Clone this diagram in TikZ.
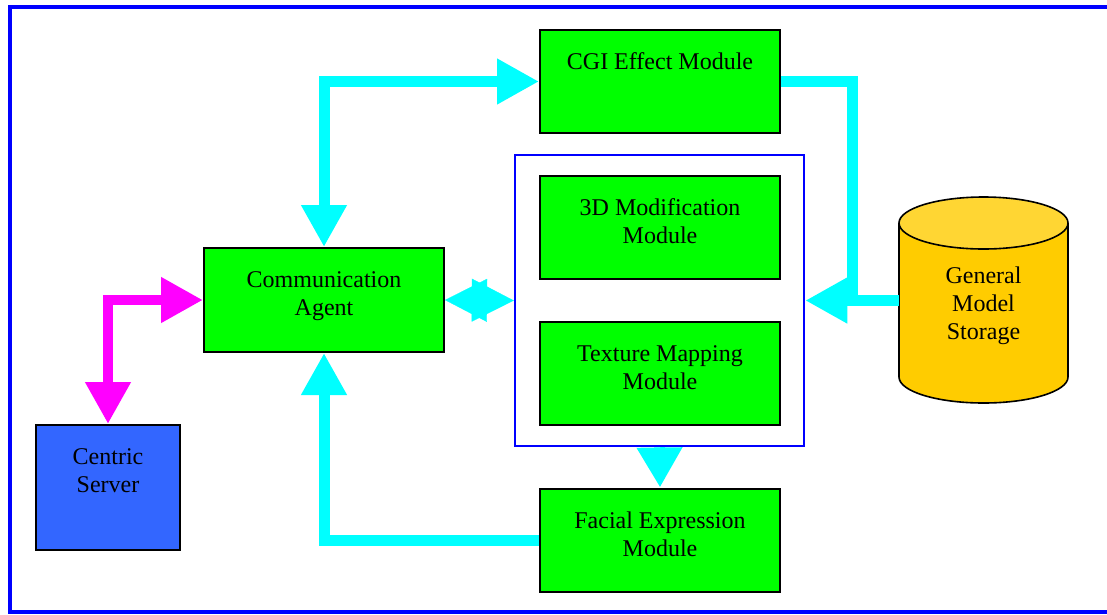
\documentclass[tikz,border=0pt]{standalone}
\usepackage{fontspec}
\setmainfont{Liberation Serif}
\usetikzlibrary{arrows.meta}
\definecolor{boxgreen}{HTML}{00FF00}
\definecolor{arrcyan}{HTML}{00FFFF}
\definecolor{arrmag}{HTML}{FF00FF}
\definecolor{frameblue}{HTML}{0000FF}
\definecolor{serverblue}{HTML}{3366FF}
\definecolor{cylbody}{HTML}{FFCC00}
\definecolor{cyltop}{HTML}{FFD633}
\begin{document}
\begin{tikzpicture}[x=1pt,y=-1pt,
  box/.style={draw=black, line width=2pt, fill=boxgreen, minimum width=240pt, minimum height=103pt, inner sep=0pt},
  txt/.style={anchor=base, inner sep=0pt, yshift=-40.5pt, font=\fontsize{24}{28}\selectfont},
  bigtip/.tip={Triangle[length=42pt,width=43pt]},
  shorttip/.tip={Triangle[length=40pt,width=43pt]},
  cyanline/.style={draw=arrcyan, line width=11pt},
  headonly/.style={draw=arrcyan, line width=0.3pt},
  magline/.style={draw=arrmag, line width=10.5pt},
]
\useasboundingbox (0,0) rectangle (1107,614);
\draw[frameblue, line width=4pt] (10,7) rectangle (1120,612);

% inner frame
\node[draw=frameblue, line width=2.5pt, minimum width=289pt, minimum height=291pt, inner sep=0pt] (frame) at (659.5,300.5) {};

% boxes
\node[box] (cgi) at (660,81.5) {};
\node[box] (mod) at (660,227.5) {};
\node[box] (tex) at (660,373) {};
\node[box] (fem) at (660,540) {};
\node[box, minimum height=104pt] (ca) at (324,300) {};
\node[box, fill=serverblue, minimum width=144pt, minimum height=125pt] (cs) at (108,487.5) {};

\node[txt] (cgit) at (cgi.north) {\parbox[t]{230pt}{\centering CGI Effect Module}};
\node[txt] (modt) at (mod.north) {\parbox[t]{230pt}{\centering 3D Modification\\Module}};
\node[txt] (text) at (tex.north) {\parbox[t]{230pt}{\centering Texture Mapping\\Module}};
\node[txt] (femt) at (fem.north) {\parbox[t]{230pt}{\centering Facial Expression\\Module}};
\node[txt] (cat) at (ca.north) {\parbox[t]{230pt}{\centering Communication\\Agent}};
\node[txt] (cst) at (cs.north) {\parbox[t]{140pt}{\centering Centric\\Server}};

% cylinder
\node[minimum width=169pt, minimum height=208pt, inner sep=0pt] (gms) at (983.5,299) {};
\fill[cylbody] (899,223) -- (899,377) arc[start angle=180, end angle=360, x radius=84.5pt, y radius=26pt] -- (1068,223) -- cycle;
\draw[black, line width=1.6pt] (899,223) -- (899,377) arc[start angle=180, end angle=360, x radius=84.5pt, y radius=26pt] -- (1068,223);
\filldraw[fill=cyltop, draw=black, line width=1.6pt] (983.5,223) ellipse [x radius=84.5pt, y radius=26pt];
\node[anchor=base, inner sep=0pt, font=\fontsize{24}{28}\selectfont] (gmst) at (983.5,283) {\parbox[t]{150pt}{\centering General\\Model\\Storage}};

% connectors
\coordinate (j) at (852,300.5);
\draw[cyanline, {bigtip}-{bigtip}] (ca.north) |- (cgi.west);
\draw[cyanline, -{bigtip}] (fem.west) -| (ca.south);
\draw[cyanline] (cgi.east) -| (j);
\draw[cyanline, -{bigtip}] (gms.west |- frame.east) -- (frame.east);
\draw[headonly, -{bigtip}] (ca.east) -- (frame.west);
\draw[headonly, -{bigtip}] (frame.west) -- (ca.east);
\draw[cyanline, -{shorttip}] (frame.south) -- (fem.north);
\draw[magline, {bigtip}-{bigtip}] (cs.north) |- (ca.west);
\end{tikzpicture}
\end{document}
